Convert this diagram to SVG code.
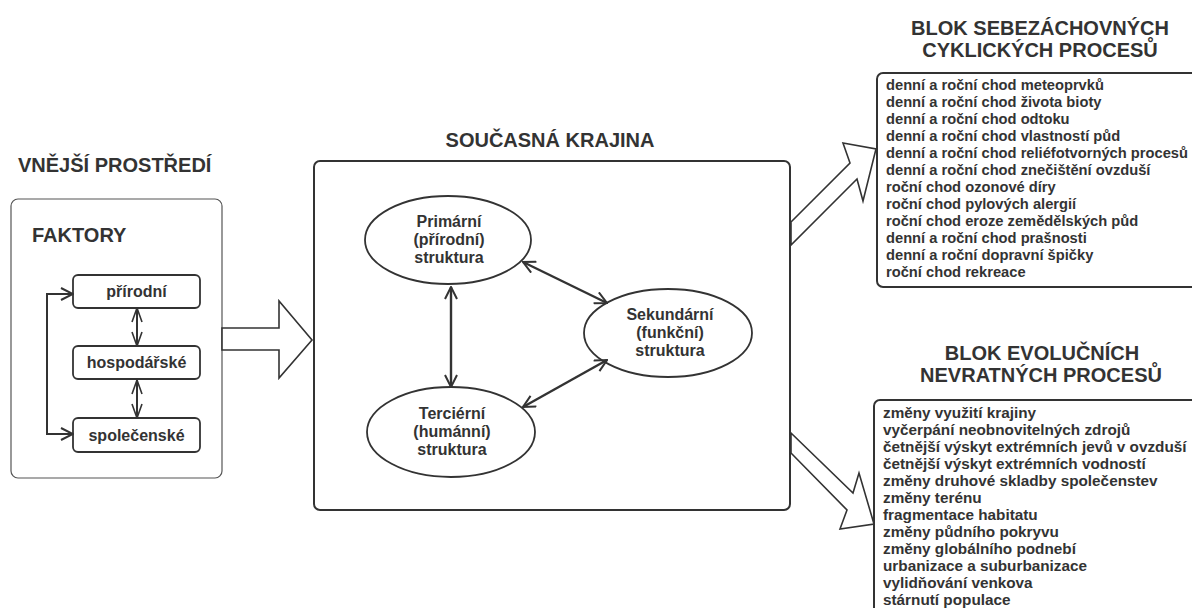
<svg xmlns="http://www.w3.org/2000/svg" width="1192" height="608" viewBox="0 0 1192 608">
  <defs>
    <style>
      .t { font-family: "Liberation Sans", Arial, sans-serif; font-weight: bold; fill: #333; }
      .title { font-size: 20px; }
      .lbl { font-size: 16px; text-anchor: middle; }
      .list { font-size: 14.7px; }
      .list2 { font-size: 15.3px; }
      .box { fill: #fff; stroke: #333; stroke-width: 2; }
      .fbox { fill: #fff; stroke: #333; stroke-width: 1.8; }
      .panel { fill: #fff; stroke: #555; stroke-width: 1.2; }
      .ell { fill: #fff; stroke: #333; stroke-width: 1.8; }
      .big { fill: #fff; stroke: #333; stroke-width: 1.6; stroke-linejoin: miter; }
      .conn { fill: none; stroke: #333; stroke-width: 2.4; }
      .fconn { fill: none; stroke: #333; stroke-width: 2; }
    </style>
    <marker id="ah" markerUnits="userSpaceOnUse" viewBox="0 0 14 14" markerWidth="14" markerHeight="14" refX="13" refY="7" orient="auto-start-reverse">
      <path d="M1,1 L13,7 L1,13" fill="none" stroke="#333" stroke-width="2"/>
    </marker>
    <marker id="ahs" markerUnits="userSpaceOnUse" viewBox="0 0 16 12" markerWidth="16" markerHeight="12" refX="15" refY="6" orient="auto-start-reverse">
      <path d="M1,1 L15,6 L1,11" fill="none" stroke="#333" stroke-width="1.6"/>
    </marker>
  </defs>

  <!-- left panel -->
  <g id="vnejsi-prostredi">
    <text class="t title" x="18" y="172">VNĚJŠÍ PROSTŘEDÍ</text>
    <rect class="panel" x="11" y="199" width="211" height="279" rx="7"/>
    <text class="t title" x="32" y="242">FAKTORY</text>
  </g>
  <g id="prirodni">
    <rect class="fbox" x="73" y="275" width="127" height="33" rx="5"/>
    <text class="t lbl" x="136.5" y="297">přírodní</text>
  </g>
  <g id="hospodarske">
    <rect class="fbox" x="73" y="346" width="127" height="33" rx="5"/>
    <text class="t lbl" x="136.5" y="368">hospodářské</text>
  </g>
  <g id="spolecenske">
    <rect class="fbox" x="73" y="418" width="127" height="34" rx="5"/>
    <text class="t lbl" x="136.5" y="441">společenské</text>
  </g>

  <!-- centre -->
  <g id="soucasna-krajina">
    <text class="t title" x="550" y="147" text-anchor="middle">SOUČASNÁ KRAJINA</text>
    <rect class="box" x="314" y="161" width="476" height="349" rx="6" stroke-width="2.2"/>
  </g>
  <g id="primarni">
    <ellipse class="ell" cx="448" cy="240" rx="83" ry="44"/>
    <text class="t lbl" x="449" y="227">Primární</text>
    <text class="t lbl" x="449" y="245">(přírodní)</text>
    <text class="t lbl" x="449" y="263">struktura</text>
  </g>
  <g id="sekundarni">
    <ellipse class="ell" cx="668" cy="333" rx="84" ry="44"/>
    <text class="t lbl" x="670" y="320">Sekundární</text>
    <text class="t lbl" x="670" y="338">(funkční)</text>
    <text class="t lbl" x="670" y="356">struktura</text>
  </g>
  <g id="tercierni">
    <ellipse class="ell" cx="451" cy="432" rx="84" ry="45"/>
    <text class="t lbl" x="452" y="419">Terciérní</text>
    <text class="t lbl" x="452" y="437">(humánní)</text>
    <text class="t lbl" x="452" y="455">struktura</text>
  </g>

  <!-- right blocks -->
  <g id="blok-cyklickych">
    <text class="t title" x="1040" y="35" text-anchor="middle" font-size="19">BLOK SEBEZÁCHOVNÝCH</text>
    <text class="t title" x="1040" y="57" text-anchor="middle" font-size="19">CYKLICKÝCH PROCESŮ</text>
    <rect class="box" x="877" y="73" width="330" height="214" rx="6"/>
    <text class="t list" x="886" y="90">denní a roční chod meteoprvků</text>
    <text class="t list" x="886" y="107">denní a roční chod života bioty</text>
    <text class="t list" x="886" y="124">denní a roční chod odtoku</text>
    <text class="t list" x="886" y="141">denní a roční chod vlastností půd</text>
    <text class="t list" x="886" y="158">denní a roční chod reliéfotvorných procesů</text>
    <text class="t list" x="886" y="175">denní a roční chod znečištění ovzduší</text>
    <text class="t list" x="886" y="192">roční chod ozonové díry</text>
    <text class="t list" x="886" y="209">roční chod pylových alergií</text>
    <text class="t list" x="886" y="226">roční chod eroze zemědělských půd</text>
    <text class="t list" x="886" y="243">denní a roční chod prašnosti</text>
    <text class="t list" x="886" y="260">denní a roční dopravní špičky</text>
    <text class="t list" x="886" y="277">roční chod rekreace</text>
  </g>
  <g id="blok-evolucnich">
    <text class="t title" x="1042" y="360" text-anchor="middle" font-size="19">BLOK EVOLUČNÍCH</text>
    <text class="t title" x="1041" y="382" text-anchor="middle" font-size="19">NEVRATNÝCH PROCESŮ</text>
    <rect class="box" x="874" y="400" width="330" height="230" rx="6"/>
    <text class="t list2" x="883" y="418">změny využití krajiny</text>
    <text class="t list2" x="883" y="435">vyčerpání neobnovitelných zdrojů</text>
    <text class="t list2" x="883" y="452">četnější výskyt extrémních jevů v ovzduší</text>
    <text class="t list2" x="883" y="469">četnější výskyt extrémních vodností</text>
    <text class="t list2" x="883" y="486">změny druhové skladby společenstev</text>
    <text class="t list2" x="883" y="503">změny terénu</text>
    <text class="t list2" x="883" y="520">fragmentace habitatu</text>
    <text class="t list2" x="883" y="537">změny půdního pokryvu</text>
    <text class="t list2" x="883" y="554">změny globálního podnebí</text>
    <text class="t list2" x="883" y="571">urbanizace a suburbanizace</text>
    <text class="t list2" x="883" y="588">vylidňování venkova</text>
    <text class="t list2" x="883" y="605">stárnutí populace</text>
  </g>

  <!-- connectors -->
  <g id="connectors">
    <path class="fconn" d="M73,294 H47 V434 H73" marker-start="url(#ah)" marker-end="url(#ah)"/>
    <line class="fconn" x1="137" y1="308" x2="137" y2="346" stroke-width="1.8" marker-start="url(#ahs)" marker-end="url(#ahs)"/>
    <line class="fconn" x1="137" y1="380" x2="137" y2="418" stroke-width="1.8" marker-start="url(#ahs)" marker-end="url(#ahs)"/>
    <line class="conn" x1="451" y1="287" x2="451" y2="387" marker-start="url(#ah)" marker-end="url(#ah)"/>
    <line class="conn" x1="523" y1="262" x2="607" y2="303" marker-start="url(#ah)" marker-end="url(#ah)"/>
    <line class="conn" x1="523" y1="407" x2="607" y2="360" marker-start="url(#ah)" marker-end="url(#ah)"/>
    <polygon class="big" points="222,328 279,328 279,301 312,340 279,378 279,350 222,350"/>
    <polygon class="big" points="791,222 850,163 843,143 876,149 863,201 857,179 791,245"/>
    <polygon class="big" points="791,433 853,493 859,473 874,524 840,529 847,510 791,453"/>
  </g>
</svg>
